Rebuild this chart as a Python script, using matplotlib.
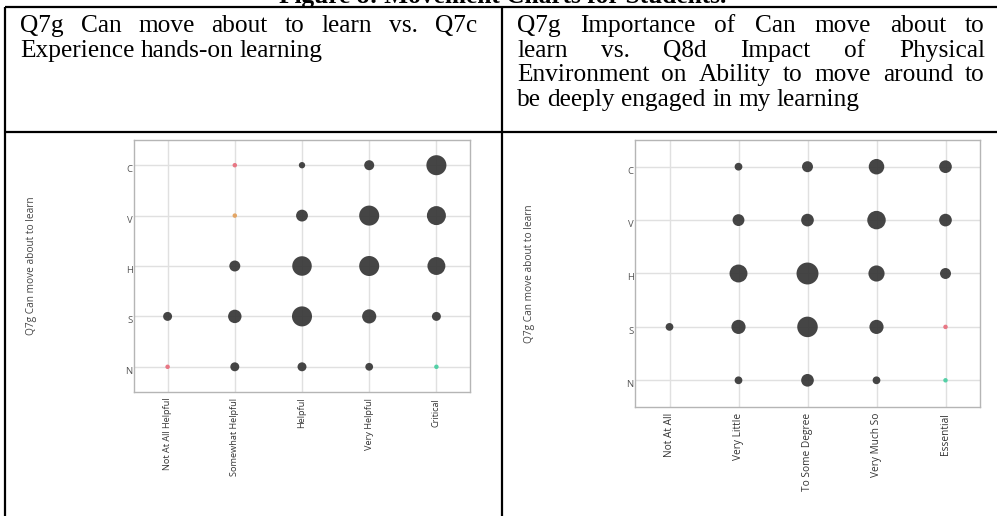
import matplotlib
matplotlib.use('Agg')
import matplotlib.pyplot as plt
from matplotlib.lines import Line2D

W, H = 997, 516

title = 'Figure 8: Movement Charts for Students.'
left_caption = ['Q7g Can move about to learn vs. Q7c',
                'Experience hands-on learning']
right_caption = ['Q7g Importance of Can move about to',
                 'learn vs. Q8d Impact of Physical',
                 'Environment on Ability to move around to',
                 'be deeply engaged in my learning']

y_label = 'Q7g Can move about to learn'
y_levels = ['N', 'S', 'H', 'V', 'C']  # bottom to top
left_x = ['Not At All Helpful', 'Somewhat Helpful', 'Helpful', 'Very Helpful', 'Critical']
right_x = ['Not At All', 'Very Little', 'To Some Degree', 'Very Much So', 'Essential']

# response counts, rows N..C (bottom to top), columns follow the x labels
left_counts = [
    [1, 4, 4, 3, 1],
    [4, 9, 20, 10, 4],
    [0, 6, 19, 20, 16],
    [0, 1, 7, 20, 18],
    [0, 1, 2, 5, 20],
]
right_counts = [
    [0, 3, 8, 3, 1],
    [3, 10, 21, 10, 1],
    [0, 16, 24, 13, 6],
    [0, 7, 8, 17, 8],
    [0, 3, 6, 12, 8],
]

# colour of the single-response dots (row, col)
left_hl = {(0, 0): '#e8717f', (3, 1): '#e3a25e', (4, 1): '#e8717f', (0, 4): '#4ccfa3'}
right_hl = {(1, 4): '#e8717f', (0, 4): '#4ccfa3'}

SIZE = 10.4
DARK = '#3b3b3b'
FS = 18.3
SERIF = 'Liberation Serif'
SANS = 'Open Sans'

fig = plt.figure(figsize=(W / 100, H / 100), dpi=100)
fig.patch.set_facecolor('white')


def fx(x):
    return x / W


def fy(y):
    return 1 - y / H


# table rules
lw = 1.6
for (x0, y0, x1, y1) in [(5, 7.3, W, 7.3), (5, 131.5, W, 131.5),
                         (5.3, 7.3, 5.3, H), (502, 7.3, 502, H)]:
    fig.add_artist(Line2D([fx(x0), fx(x1)], [fy(y0), fy(y1)], color='black', lw=lw,
                          solid_capstyle='butt'))

fig.text(fx(503), fy(3.5), title, fontsize=FS, family=SERIF, weight='bold',
         ha='center', va='baseline')

renderer = fig.canvas.get_renderer()


def justified(lines, x0, x1, y0, dy):
    for i, line in enumerate(lines):
        words = line.split()
        ts = [fig.text(0, fy(y0 + i * dy), w, fontsize=FS, family=SERIF, va='baseline')
              for w in words]
        widths = [t.get_window_extent(renderer).width for t in ts]
        if i == len(lines) - 1:
            gap = 0.25 * FS * 100 / 72
        else:
            gap = (x1 - x0 - sum(widths)) / (len(words) - 1)
        x = x0
        for t, w in zip(ts, widths):
            t.set_x(fx(x))
            x += w + gap


justified(left_caption, 20, 477, 32, 24.7)
justified(right_caption, 517, 985, 32, 24.7)


def bubble(rect, xlabels, counts, hl, xfs, lab_x):
    ax = fig.add_axes(rect)
    xs, ys, ss, cs = [], [], [], []
    for j, row in enumerate(counts):
        for i, c in enumerate(row):
            if c == 0:
                continue
            xs.append(i)
            ys.append(j)
            ss.append(c * SIZE)
            cs.append(hl.get((j, i), DARK))
    ax.scatter(xs, ys, s=ss, c=cs, linewidths=0, zorder=3, alpha=0.95)
    ax.set_xlim(-0.5, 4.5)
    ax.set_ylim(-0.5, 4.5)
    ax.set_xticks(range(5))
    ax.set_xticklabels(xlabels, rotation=90, fontsize=xfs, color='#333333', family=SANS)
    ax.set_yticks(range(5))
    ax.set_yticklabels(y_levels, fontsize=6.8, color='#555555', family=SANS, va='top')
    ax.tick_params(axis='x', length=0, pad=4.3)
    ax.tick_params(axis='y', length=0, pad=1)
    ax.grid(color='#e0e0e0', lw=1.0)
    ax.set_axisbelow(True)
    for sp in ax.spines.values():
        sp.set_color('#b5b5b5')
        sp.set_linewidth(1.0)
    ax.set_ylabel(y_label, fontsize=7.3, color='#444444', family=SANS)
    ax.yaxis.set_label_coords(lab_x, 0.5)
    return ax


bubble([fx(134), fy(392), 336 / W, 252 / H], left_x, left_counts, left_hl, 6.6, -0.29)
bubble([fx(635), fy(407), 345 / W, 267 / H], right_x, right_counts, right_hl, 7.3, -0.29)

fig.savefig('out.png', dpi=100)
